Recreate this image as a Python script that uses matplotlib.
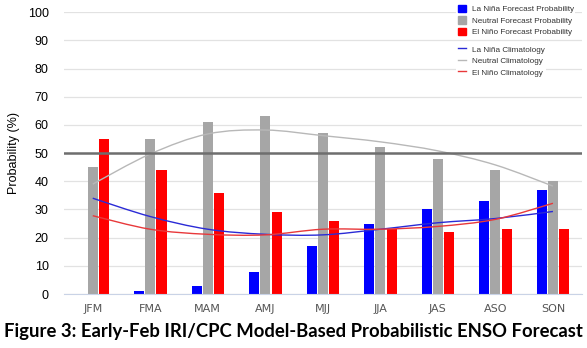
import matplotlib

matplotlib.use("Agg")
import matplotlib.pyplot as plt
import numpy as np
from matplotlib.lines import Line2D
from matplotlib.patches import Patch, PathPatch
from matplotlib.path import Path

seasons = ["JFM", "FMA", "MAM", "AMJ", "MJJ", "JJA", "JAS", "ASO", "SON"]

# forecast probabilities (%)
la_nina = [0, 1, 3, 8, 17, 25, 30, 33, 37]
neutral = [45, 55, 61, 63, 57, 52, 48, 44, 40]
el_nino = [55, 44, 36, 29, 26, 23, 22, 23, 23]

# climatological probabilities (%)
la_nina_clim = [34, 27.5, 23, 21.2, 21, 23, 25.3, 26.8, 29.3]
neutral_clim = [39, 49.7, 56.8, 58.2, 56.2, 54, 50.8, 45.8, 38.3]
el_nino_clim = [27.8, 23, 21.2, 21, 23, 23, 24, 26.5, 32.2]

BLUE = "#0000ff"
GREY = "#a6a6a6"
RED = "#ff0000"


def smooth_path(x, y):
    # Catmull-Rom style cubic Bezier through the points (like a "smoothed line")
    pts = np.column_stack([x, y]).astype(float)
    verts = [pts[0]]
    codes = [Path.MOVETO]
    n = len(pts)
    for i in range(n - 1):
        p0 = pts[max(i - 1, 0)]
        p1 = pts[i]
        p2 = pts[i + 1]
        p3 = pts[min(i + 2, n - 1)]
        c1 = p1 + (p2 - p0) / 6.0
        c2 = p2 - (p3 - p1) / 6.0
        verts += [c1, c2, p2]
        codes += [Path.CURVE4] * 3
    return Path(verts, codes)


fig = plt.figure(figsize=(5.87, 3.48), dpi=100)
ax = fig.add_axes([0.109, 0.155, 0.882, 0.810])

x = np.arange(len(seasons))
off = 0.195
w = 0.175
ax.bar(x - off, la_nina, w, color=BLUE, zorder=3)
ax.bar(x, neutral, w, color=GREY, zorder=3)
ax.bar(x + off, el_nino, w, color=RED, zorder=3)

for vals, col in [(la_nina_clim, "#2a2ad6"), (neutral_clim, "#b8b8b8"),
                  (el_nino_clim, "#e8383a")]:
    ax.add_patch(PathPatch(smooth_path(x, vals), facecolor="none",
                           edgecolor=col, lw=1.0, zorder=4))

ax.axhline(50, color="#6e6e6e", lw=1.8, zorder=5)

ax.set_xlim(-0.5, len(seasons) - 0.5)
ax.set_ylim(0, 100)
ax.set_yticks(range(0, 101, 10))
ax.set_xticks(x)
ax.set_xticklabels(seasons, fontsize=8, color="#555555", family="Liberation Sans Narrow")
ax.set_yticklabels([str(v) for v in range(0, 101, 10)], family="Liberation Sans")
ax.tick_params(axis="y", labelsize=9, length=0, pad=11)
ax.tick_params(axis="x", length=0, pad=7)
ax.grid(axis="y", color="#e2e2e2", lw=0.9, zorder=0)
for s in ["top", "right", "left"]:
    ax.spines[s].set_visible(False)
ax.spines["bottom"].set_color("#c9d3e6")
ax.spines["bottom"].set_zorder(6)
ax.set_ylabel("Probability (%)", fontsize=9, family="Liberation Sans")
ax.yaxis.set_label_coords(-0.085, 0.5)

bar_handles = [Patch(color=BLUE), Patch(color=GREY), Patch(color=RED)]
bar_labels = ["La Niña Forecast Probability", "Neutral Forecast Probability",
              "El Niño Forecast Probability"]
line_handles = [Line2D([], [], color="#2a2ad6", lw=1),
                Line2D([], [], color="#b8b8b8", lw=1),
                Line2D([], [], color="#e8383a", lw=1)]
line_labels = ["La Niña Climatology", "Neutral Climatology", "El Niño Climatology"]

common = dict(frameon=True, framealpha=1, edgecolor="none",
              handlelength=1.0, handleheight=1.0, handletextpad=0.7,
              labelspacing=0.38, borderpad=0.2, labelcolor="#333333",
              prop={"family": "Liberation Sans", "size": 5.9})
fig.legend(bar_handles, bar_labels, loc="upper left",
           bbox_to_anchor=(0.770, 1.003), **common)
fig.legend(line_handles, line_labels, loc="upper left",
           bbox_to_anchor=(0.770, 0.887), **common)

fig.text(0.5, 0.047, "Figure 3: Early-Feb IRI/CPC Model-Based Probabilistic ENSO Forecast",
         ha="center", va="center", fontsize=13.3, fontweight="bold", family="Lato")

fig.savefig("out.png", dpi=100)
